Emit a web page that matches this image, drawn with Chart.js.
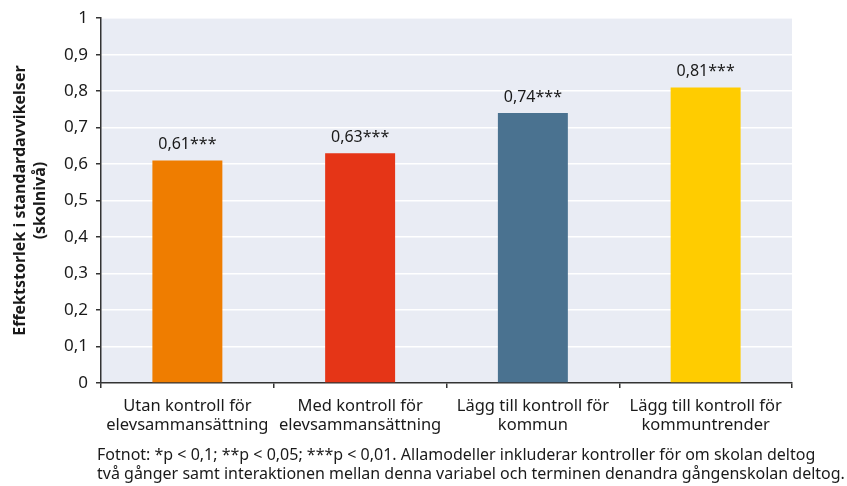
<!DOCTYPE html>
<html>
<head>
<meta charset="utf-8">
<script src="https://cdn.jsdelivr.net/npm/chart.js@4"></script>
<style>
  html, body { margin: 0; padding: 0; background: #fff; }
  #wrap { width: 847px; height: 486px; }
</style>
</head>
<body>
<div id="wrap"><canvas id="chartEffekt" width="847" height="486"></canvas></div>
<script>
const kategorier = [
    ['Utan kontroll för', 'elevsammansättning'],
    ['Med kontroll för', 'elevsammansättning'],
    ['Lägg till kontroll för', 'kommun'],
    ['Lägg till kontroll för', 'kommuntrender']
];
const effekter = [0.61, 0.63, 0.74, 0.81];
const signifikans = ['***', '***', '***', '***'];
const farger = ['#EF7D00', '#E53517', '#4A7290', '#FFCC00'];
const fotnot = [
    'Fotnot: *p < 0,1; **p < 0,05; ***p < 0,01. Allamodeller inkluderar kontroller för om skolan deltog',
    'två gånger samt interaktionen mellan denna variabel och terminen denandra gångenskolan deltog.'
];

const fontFamily = '"Noto Sans", "DejaVu Sans", sans-serif';

const bakgrund = {
    id: 'bakgrund',
    beforeDraw(chart) {
        const { ctx, chartArea: a } = chart;
        ctx.save();
        ctx.fillStyle = '#E9ECF4';
        ctx.fillRect(a.left, a.top, a.right - a.left, a.bottom - a.top);
        ctx.restore();
    }
};

const etiketter = {
    id: 'etiketter',
    afterDatasetsDraw(chart) {
        const ctx = chart.ctx;
        const meta = chart.getDatasetMeta(0);
        ctx.save();
        ctx.font = '16px ' + fontFamily;
        ctx.fillStyle = '#1a1a1a';
        ctx.textAlign = 'center';
        ctx.textBaseline = 'bottom';
        meta.data.forEach((bar, i) => {
            const txt = effekter[i].toFixed(2).replace('.', ',') + signifikans[i];
            ctx.fillText(txt, bar.x, bar.y - 8);
        });
        ctx.restore();
    }
};

const fotnotPlugin = {
    id: 'fotnot',
    afterDraw(chart) {
        const ctx = chart.ctx;
        ctx.save();
        ctx.font = '16px ' + fontFamily;
        ctx.fillStyle = '#1a1a1a';
        ctx.textAlign = 'left';
        ctx.textBaseline = 'middle';
        fotnot.forEach((rad, i) => ctx.fillText(rad, 97, 455 + i * 19));
        ctx.restore();
    }
};

new Chart(document.getElementById('chartEffekt').getContext('2d'), {
    type: 'bar',
    data: {
        labels: kategorier,
        datasets: [{
            data: effekter,
            backgroundColor: farger,
            barPercentage: 0.81,
            categoryPercentage: 0.5
        }]
    },
    options: {
        responsive: false,
        animation: false,
        layout: { padding: { top: 18, right: 55, bottom: 50, left: 0 } },
        plugins: { legend: { display: false }, tooltip: { enabled: false } },
        scales: {
            y: {
                min: 0,
                max: 1,
                afterFit(scale) { scale.width = 101; },
                ticks: {
                    stepSize: 0.1,
                    color: '#1a1a1a',
                    padding: 8,
                    font: { size: 17, family: fontFamily },
                    callback: v => String(Math.round(v * 10) / 10).replace('.', ',')
                },
                grid: { color: '#ffffff', lineWidth: 1.5, tickColor: '#333', tickLength: 5 },
                border: { color: '#333', width: 1.5 },
                title: {
                    display: true,
                    text: ['Effektstorlek i standardavvikelser', '(skolnivå)'],
                    color: '#1a1a1a',
                    font: { size: 16, weight: 'bold', family: fontFamily, lineHeight: 1.25 },
                    padding: { top: 10, bottom: 6 }
                }
            },
            x: {
                afterFit(scale) { scale.height = 53; },
                ticks: {
                    color: '#1a1a1a',
                    padding: 8,
                    font: { size: 16.5, family: fontFamily, lineHeight: 1.2 },
                    maxRotation: 0
                },
                grid: { offset: true, drawOnChartArea: false, tickColor: '#333', tickLength: 5, lineWidth: 1.5 },
                border: { color: '#333', width: 1.5 }
            }
        }
    },
    plugins: [bakgrund, etiketter, fotnotPlugin]
});
</script>
</body>
</html>
